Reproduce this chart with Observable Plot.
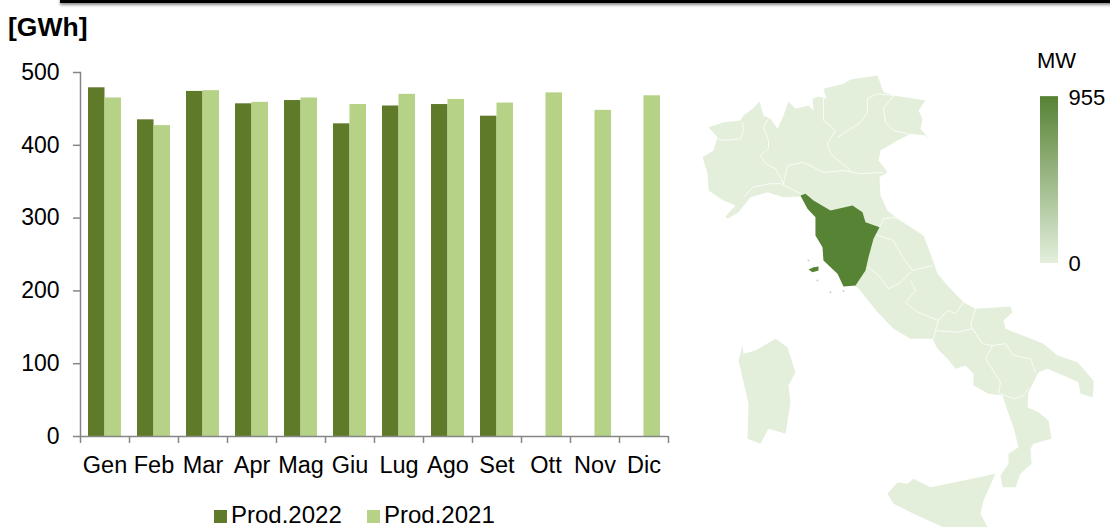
<!DOCTYPE html>
<html><head><meta charset="utf-8">
<script src="https://cdn.jsdelivr.net/npm/d3@7"></script>
<script src="https://cdn.jsdelivr.net/npm/@observablehq/plot@0.6"></script>
<style>
html,body{margin:0;padding:0;background:#fff;width:1110px;height:527px;overflow:hidden;font-family:"Liberation Sans",Arial,sans-serif;color:#000}
#root{position:relative;width:1110px;height:527px;overflow:hidden}
#root>svg,.abs{position:absolute}
.abs{white-space:nowrap;line-height:1}
</style></head><body><div id="root"></div>
<script>
const months=["Gen","Feb","Mar","Apr","Mag","Giu","Lug","Ago","Set","Ott","Nov","Dic"];
const prod2022=[479,435,474,457,461.5,429.5,454,456,440];
const prod2021=[465,427,475,459,465,456,470,463,458,472,448,468];
const DARK="#5f7b2a",LIGHT="#b5d286",AXIS="#868686";

// Map outlines as [longitude, latitude]
const mainland=[[6.84,45.96],[7.29,46.07],[7.80,46.11],[7.89,46.22],[8.16,46.37],[8.37,46.53],[8.49,46.22],[8.70,46.15],[8.91,45.93],[9.09,46.22],[9.24,46.53],[9.45,46.37],[9.84,46.44],[9.99,46.33],[9.96,46.59],[10.14,46.64],[10.38,46.59],[10.29,46.81],[10.89,46.92],[11.10,47.01],[11.91,47.10],[12.00,46.92],[12.09,46.73],[12.39,46.66],[13.35,46.55],[13.14,46.33],[13.26,46.15],[13.20,45.93],[13.50,45.67],[13.35,45.78],[12.90,45.82],[12.51,45.67],[12.00,45.45],[11.94,45.23],[12.21,44.97],[11.97,44.86],[12.00,44.46],[12.21,44.13],[12.51,43.95],[13.29,43.58],[13.50,43.18],[13.71,42.74],[14.01,42.48],[14.49,42.11],[14.85,41.97],[15.90,42.02],[15.96,41.89],[15.69,41.71],[15.75,41.53],[16.89,41.20],[17.31,40.94],[17.91,40.79],[18.39,40.39],[18.39,40.24],[18.36,40.02],[18.00,40.10],[17.94,40.35],[17.61,40.46],[17.01,40.65],[16.74,40.57],[16.44,40.13],[16.41,39.80],[16.74,39.69],[17.04,39.51],[17.13,39.11],[16.59,39.00],[16.50,38.89],[16.53,38.56],[16.20,38.34],[16.05,38.04],[15.66,38.04],[15.60,38.30],[15.84,38.56],[15.84,38.78],[16.14,38.92],[15.99,39.36],[15.84,39.66],[15.66,40.06],[15.24,40.10],[14.79,40.28],[14.79,40.54],[14.55,40.72],[14.25,40.65],[14.01,40.87],[13.71,41.09],[13.56,41.31],[12.90,41.31],[12.39,41.53],[11.91,41.89],[11.31,42.44],[10.95,42.52],[10.71,42.74],[10.29,43.03],[10.26,43.32],[10.05,43.58],[10.05,43.98],[9.81,44.17],[9.60,44.44],[9.09,44.42],[8.61,44.53],[8.10,44.42],[7.74,44.09],[7.41,43.95],[7.35,44.00],[7.65,44.24],[7.29,44.35],[6.84,44.57],[6.81,44.94],[6.66,45.30],[6.99,45.45],[7.11,45.74]];
const sardinia=[[7.86,41.16],[7.89,40.98],[8.25,41.05],[8.85,41.31],[9.21,41.12],[9.45,40.57],[9.24,40.28],[9.30,39.91],[9.15,39.22],[8.64,39.33],[8.40,39.00],[8.01,39.11],[8.04,39.88],[7.95,40.17],[7.74,40.83]];
const sicily=[[12.21,37.90],[12.51,38.15],[12.81,38.12],[12.99,38.23],[13.50,38.04],[14.49,38.19],[15.45,38.34],[15.09,37.75],[15.00,37.46],[15.21,37.16],[15.10,36.65],[14.50,36.76],[13.89,37.16],[12.99,37.46],[12.39,37.68]];
const tuscany=[[9.60,44.46],[9.75,44.50],[9.99,44.35],[10.50,44.13],[11.16,44.24],[11.46,44.09],[11.55,43.87],[11.97,43.76],[11.79,43.51],[11.64,43.10],[11.55,42.81],[11.25,42.48],[10.89,42.46],[10.71,42.74],[10.29,43.03],[10.26,43.32],[10.05,43.58],[10.05,43.98],[9.81,44.17]];
const elba=[[9.84,42.83],[9.99,42.88],[10.14,42.90],[10.14,42.81],[9.96,42.77]];
const islets=[[9.84,43.03],[10.11,42.59],[10.89,42.36],[10.50,42.33]];
const borders=[
 [[7.11,45.71],[7.29,45.67],[7.80,45.71],[7.89,45.89],[7.86,46.07]],
 [[8.64,46.15],[8.49,45.96],[8.64,45.67],[8.64,45.49],[8.40,45.34],[8.55,45.16],[8.85,45.05],[9.09,44.72]],
 [[7.89,44.42],[8.16,44.64],[8.70,44.72],[9.00,44.72],[9.60,44.50]],
 [[9.09,44.72],[9.21,45.12],[9.69,45.19],[10.29,44.97],[10.89,45.01],[11.40,44.94],[12.09,44.97]],
 [[10.29,46.59],[10.29,46.11],[10.65,45.89],[10.41,45.60],[10.50,45.38],[11.10,45.01]],
 [[10.71,45.74],[11.40,46.07],[11.61,46.29],[11.61,46.59],[11.91,46.70],[12.39,46.66]],
 [[12.39,46.66],[12.09,46.37],[12.15,46.07],[12.39,45.89],[12.81,45.82]],
 [[11.97,43.76],[12.09,43.95],[12.39,43.98],[12.51,43.95]],
 [[11.79,43.62],[12.39,43.47],[12.66,43.10],[12.96,42.81]],
 [[11.64,42.88],[12.00,42.66],[12.24,42.41],[12.60,42.55],[12.90,42.77]],
 [[12.96,42.81],[13.56,42.92]],
 [[12.90,42.59],[13.05,42.37],[12.75,42.11],[13.11,41.89],[13.74,41.71]],
 [[14.49,42.11],[14.25,41.86],[14.01,41.93],[13.74,41.71]],
 [[13.74,41.71],[13.65,41.49],[13.59,41.31]],
 [[13.65,41.49],[14.31,41.45],[14.76,41.53]],
 [[14.85,41.97],[14.70,41.60],[15.06,41.20],[15.36,41.16]],
 [[15.36,41.16],[15.15,40.87],[15.60,40.35],[15.54,40.10]],
 [[15.36,41.16],[15.75,41.20],[15.99,40.94],[16.50,40.87],[16.65,40.57]],
 [[15.60,40.10],[15.99,39.99],[16.29,40.06],[16.44,40.21]]
];
const mapRegions=[
 {name:"Italia",mw:0,outline:mainland},
 {name:"Sardegna",mw:0,outline:sardinia},
 {name:"Sicilia",mw:0,outline:sicily},
 {name:"Toscana",mw:955,outline:tuscany},
 {name:"Elba",mw:955,outline:elba}
];
const colorDomain=[0,955];
const colorRange=["#e3efdb","#578335"];

const root=document.getElementById("root");
const FONT='"Liberation Sans",Arial,sans-serif';

// ---------- bars ----------
const table22=prod2022.map((v,i)=>({month:months[i],value:v}));
const table21=prod2021.map((v,i)=>({month:months[i],value:v}));
const STEP=49;
const chart=Plot.plot({
  width:690,height:527,marginLeft:80,marginRight:22,marginTop:72,marginBottom:91,
  style:{fontFamily:FONT,background:"transparent",overflow:"visible"},
  x:{domain:months,padding:0,round:false,axis:null},
  y:{domain:[0,500],axis:null},
  marks:[
    Plot.barY(table22,{x:"month",y:"value",fill:DARK,insetLeft:8,insetRight:STEP-24.5}),
    Plot.barY(table21,{x:"month",y:"value",fill:LIGHT,insetLeft:24.5,insetRight:8}),
    Plot.axisY({ticks:[0,100,200,300,400,500],tickSize:7,tickPadding:14,stroke:AXIS,strokeWidth:1.5,fill:"#000",fontSize:23,label:null,tickFormat:d3.format("d")}),
    Plot.frame({anchor:"left",stroke:AXIS,strokeWidth:1.5}),
    Plot.ruleY([0],{stroke:AXIS,strokeWidth:1.5}),
    Plot.axisX(months,{tickSize:7,dx:-STEP/2,stroke:AXIS,strokeWidth:1.5,fill:"none",label:null}),
    Plot.axisX(["Dic"],{tickSize:7,dx:STEP/2,stroke:AXIS,strokeWidth:1.5,fill:"none",label:null}),
    Plot.axisX(months,{tickSize:0,tickPadding:20,fill:"#000",fontSize:23.5,label:null})
  ]
});
chart.style.left="0px";chart.style.top="0px";
root.appendChild(chart);

// ---------- map ----------
const mapPoints=mapRegions.flatMap(r=>r.outline.map(p=>({name:r.name,mw:r.mw,lon:p[0],lat:p[1]})));
const borderPoints=borders.flatMap((b,i)=>b.map(p=>({id:i,lon:p[0],lat:p[1]})));
const map=Plot.plot({
  width:420,height:527,margin:0,
  style:{background:"transparent",filter:"blur(0.6px)"},
  x:{domain:[6.6,18.6],range:[10,410],axis:null},
  y:{domain:[47.1,38.3],range:[75,475],axis:null},
  color:{type:"linear",domain:colorDomain,range:colorRange},
  marks:[
    Plot.line(mapPoints.filter(d=>d.mw===0),{x:"lon",y:"lat",z:"name",fill:"mw",stroke:"none"}),
    Plot.line(borderPoints,{x:"lon",y:"lat",z:"id",stroke:"#fff",strokeWidth:1,opacity:.75}),
    Plot.line(mapPoints.filter(d=>d.mw>0),{x:"lon",y:"lat",z:"name",fill:"mw",stroke:"none"}),
    Plot.dot(islets,{x:d=>d[0],y:d=>d[1],r:1,fill:()=>955,fillOpacity:.35})
  ]
});
map.style.left="690px";map.style.top="0px";
root.appendChild(map);

// ---------- colour ramp ----------
const rampSteps=d3.range(0,955,5);
const ramp=Plot.plot({
  width:70,height:186,marginLeft:0,marginRight:52,marginTop:10,marginBottom:10,
  style:{fontFamily:FONT,background:"transparent",overflow:"visible"},
  x:{domain:[0,1],axis:null},
  y:{domain:colorDomain,axis:null},
  color:{type:"linear",domain:colorDomain,range:colorRange},
  marks:[
    Plot.rect(rampSteps,{x1:0,x2:1,y1:d=>d,y2:d=>d+10,fill:d=>d}),
    Plot.axisY({anchor:"right",ticks:colorDomain,tickSize:0,tickPadding:10,fontSize:22,fill:"#000",label:null,tickFormat:d3.format("d")})
  ]
});
ramp.style.left="1040px";ramp.style.top="87px";
root.appendChild(ramp);

// ---------- text and legend ----------
function addText(t,x,y,size,weight){
  const e=document.createElement("div");e.className="abs";e.textContent=t;
  e.style.cssText+=`left:${x}px;top:${y}px;font-size:${size}px;font-weight:${weight||"normal"}`;
  root.appendChild(e);
}
function addBox(x,y,w,h,c){
  const e=document.createElement("div");e.className="abs";
  e.style.cssText+=`left:${x}px;top:${y}px;width:${w}px;height:${h}px;background:${c}`;
  root.appendChild(e);
}
addText("[GWh]",8,14,26.5,"bold");
addText("MW",1037,50,22);
addBox(214,510,13,13,DARK);
addText("Prod.2022",231,503,24);
addBox(367,510,13,13,LIGHT);
addText("Prod.2021",384,503,24);
const bar=document.createElement("div");bar.className="abs";
bar.style.cssText+="left:60px;top:-3px;width:1060px;height:6px;background:#000;box-shadow:0 2px 3px rgba(0,0,0,.45)";
root.appendChild(bar);
</script></body></html>
